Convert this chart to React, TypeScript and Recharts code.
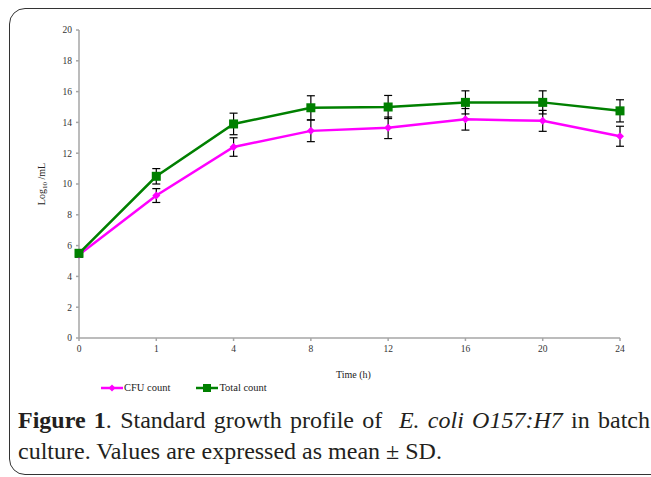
import { LineChart, Line, XAxis, YAxis, ErrorBar } from "recharts";

const times = ["0", "1", "4", "8", "12", "16", "20", "24"];
const cfuCount = [5.4, 9.25, 12.4, 13.45, 13.65, 14.2, 14.1, 13.1];
const cfuSd = [0.15, 0.45, 0.6, 0.7, 0.7, 0.7, 0.68, 0.65];
const totalCount = [5.5, 10.5, 13.9, 14.95, 15.0, 15.3, 15.3, 14.75];
const totalSd = [0.15, 0.5, 0.7, 0.78, 0.75, 0.75, 0.75, 0.72];
const yTicks = [0, 2, 4, 6, 8, 10, 12, 14, 16, 18, 20];

const data = times.map((t, i) => ({
  time: t,
  cfu: cfuCount[i],
  cfuErr: cfuSd[i],
  total: totalCount[i],
  totalErr: totalSd[i],
}));

const FONT = '"Liberation Serif", "Times New Roman", serif';
const AXIS = "#a6a6a6";
const MAGENTA = "#ff00ff";
const GREEN = "#008000";

function Diamond(props: any) {
  const { cx, cy, index } = props;
  const r = 4;
  return (
    <polygon
      key={`d-${index}`}
      points={`${cx},${cy - r} ${cx + r},${cy} ${cx},${cy + r} ${cx - r},${cy}`}
      fill={MAGENTA}
    />
  );
}

function Square(props: any) {
  const { cx, cy, index } = props;
  const s = 9;
  return <rect key={`s-${index}`} x={cx - s / 2} y={cy - s / 2} width={s} height={s} fill={GREEN} />;
}

function YLabel(props: any) {
  const vb = props.viewBox || { x: 0, y: 30, width: 79, height: 308 };
  const x = 45;
  const y = vb.y + vb.height / 2;
  return (
    <text
      x={x}
      y={y}
      transform={`rotate(-90 ${x} ${y})`}
      textAnchor="middle"
      fontFamily={FONT}
      fontSize={10}
      fill="#222"
    >
      <tspan>Log</tspan>
      <tspan fontSize={7} dy={2}>10</tspan>
      <tspan dy={-2}> /mL</tspan>
    </text>
  );
}

function LegendItem({ label, color, square }: { label: string; color: string; square: boolean }) {
  return (
    <div style={{ display: "flex", alignItems: "center" }}>
      <svg width={22} height={10}>
        <line x1={0} y1={5} x2={22} y2={5} stroke={color} strokeWidth={2.5} />
        {square ? (
          <rect x={7} y={1} width={8} height={8} fill={color} />
        ) : (
          <polygon points="11,1.5 14.5,5 11,8.5 7.5,5" fill={color} />
        )}
      </svg>
      <span style={{ fontFamily: FONT, fontSize: 10.5, color: "#222", marginLeft: 1 }}>{label}</span>
    </div>
  );
}

export default function App() {
  return (
    <div
      style={{
        position: "absolute",
        left: 0,
        top: 0,
        width: 651,
        height: 477,
        overflow: "hidden",
        background: "#fff",
      }}
    >
      {/* rounded frame */}
      <div
        style={{
          position: "absolute",
          left: 9,
          top: 8,
          width: 660,
          height: 467,
          border: "1.5px solid #333",
          borderRadius: 16,
          boxSizing: "border-box",
        }}
      />

      <div style={{ position: "absolute", left: 0, top: 0 }}>
        <LineChart
          width={651}
          height={400}
          data={data}
          margin={{ top: 30, right: 31, left: 0, bottom: 32 }}
        >
          <XAxis
            dataKey="time"
            height={30}
            tickSize={3}
            tickMargin={4}
            stroke={AXIS}
            strokeWidth={1.5}
            tick={{ fill: "#333", fontSize: 9.5, fontFamily: FONT }}
            label={{
              value: "Time (h)",
              position: "insideBottom",
              offset: -10,
              dx: 4,
              fill: "#222",
              fontSize: 10,
              fontFamily: FONT,
            }}
          />
          <YAxis
            width={79}
            domain={[0, 20]}
            ticks={yTicks}
            interval={0}
            tickSize={3}
            tickMargin={4}
            stroke={AXIS}
            strokeWidth={1.5}
            tick={{ fill: "#333", fontSize: 9.5, fontFamily: FONT }}
            label={{ content: YLabel }}
          />
          <Line
            dataKey="cfu"
            stroke={MAGENTA}
            strokeWidth={2.5}
            dot={Diamond}
            activeDot={false}
            isAnimationActive={false}
          >
            <ErrorBar dataKey="cfuErr" width={4} stroke="#000" strokeWidth={1.2} direction="y" />
          </Line>
          <Line
            dataKey="total"
            stroke={GREEN}
            strokeWidth={2.5}
            dot={Square}
            activeDot={false}
            isAnimationActive={false}
          >
            <ErrorBar dataKey="totalErr" width={4} stroke="#000" strokeWidth={1.2} direction="y" />
          </Line>
        </LineChart>
      </div>

      {/* legend */}
      <div style={{ position: "absolute", left: 101, top: 382, display: "flex", gap: 26 }}>
        <LegendItem label="CFU count" color={MAGENTA} square={false} />
        <LegendItem label="Total count" color={GREEN} square={true} />
      </div>

      {/* caption */}
      <div
        style={{
          position: "absolute",
          left: 18,
          top: 405,
          width: 632,
          fontFamily: FONT,
          fontSize: 24,
          lineHeight: "31px",
          color: "#231f20",
        }}
      >
        <div style={{ textAlign: "justify", textAlignLast: "justify", whiteSpace: "nowrap" as any }}>
          <b>Figure 1</b>. Standard growth profile of&nbsp; <i>E. coli O157:H7</i> in batch
        </div>
        <div>culture. Values are expressed as mean ± SD.</div>
      </div>
    </div>
  );
}
